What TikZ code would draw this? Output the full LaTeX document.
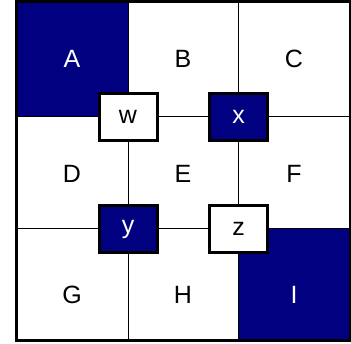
\documentclass[tikz,border=0pt]{standalone}
\usepackage{fontspec}
\setmainfont{Liberation Sans}
\definecolor{navy}{HTML}{000080}
\begin{document}
\begin{tikzpicture}[x=1pt,y=-1pt,
  cell/.style={draw=black, line width=0.8pt, inner sep=0pt, rectangle},
  dark/.style={fill=navy},
  lab/.style={inner sep=0pt, font=\fontsize{25}{30}\selectfont, text=black},
  labw/.style={lab, text=white},
  conn/.style={draw=black, line width=3pt, inner sep=0pt, minimum width=58pt, minimum height=47pt, font=\fontsize{25}{30}\selectfont},
]
\useasboundingbox (0,0) rectangle (351,343);
\fill[white] (0,0) rectangle (351,343);
% cells
\node[cell,dark, minimum width=111.5pt, minimum height=114pt] (cA) at (72.25,59) {};
\node[cell, minimum width=110pt, minimum height=114pt] (cB) at (183,59) {};
\node[cell, minimum width=112pt, minimum height=114pt] (cC) at (294,59) {};
\node[cell, minimum width=111.5pt, minimum height=112pt] (cD) at (72.25,172) {};
\node[cell, minimum width=110pt, minimum height=112pt] (cE) at (183,172) {};
\node[cell, minimum width=112pt, minimum height=112pt] (cF) at (294,172) {};
\node[cell, minimum width=111.5pt, minimum height=112.5pt] (cG) at (72.25,284.25) {};
\node[cell, minimum width=110pt, minimum height=112.5pt] (cH) at (183,284.25) {};
\node[cell,dark, minimum width=112pt, minimum height=112.5pt] (cI) at (294,284.25) {};
% outer border
\draw[line width=3pt] (cA.north west) rectangle (cI.south east);
% labels
\node[labw] (lA) at (72,59) {A};
\node[lab] (lB) at (183,59) {B};
\node[lab] (lC) at (294,59) {C};
\node[lab] (lD) at (72,174) {D};
\node[lab] (lE) at (183,174) {E};
\node[lab] (lF) at (294,174) {F};
\node[lab] (lG) at (72,295) {G};
\node[lab] (lH) at (183,295) {H};
\node[labw] (lI) at (294,295) {I};
% connector boxes
\node[conn, fill=white] (w) at (128,116.5) {w};
\node[conn, fill=navy, text=white] (xx) at (238.5,116.5) {x};
\node[conn, fill=navy, text=white] (yy) at (128,229) {y};
\node[conn, fill=white] (z) at (238.5,229) {z};
\end{tikzpicture}
\end{document}
